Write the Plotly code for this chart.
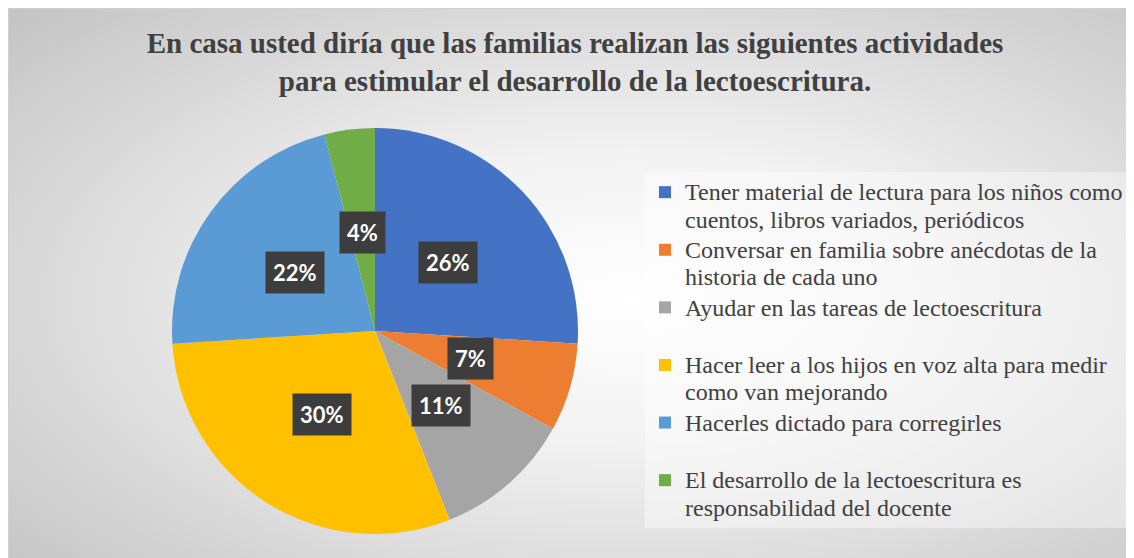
import base64
import math
import plotly.graph_objects as go

# ---- data ----
categories = [
    "Tener material de lectura para los niños como<br>cuentos, libros variados, periódicos",
    "Conversar en familia sobre anécdotas de la<br>historia de cada uno",
    "Ayudar en las tareas de lectoescritura<br> ",
    "Hacer leer a los hijos en voz alta para medir<br>como van mejorando",
    "Hacerles dictado para corregirles<br> ",
    "El desarrollo de la lectoescritura es<br>responsabilidad del docente",
]
values = [26, 7, 11, 30, 22, 4]
colors = ["#4472C4", "#ED7D31", "#A5A5A5", "#FFC000", "#5B9BD5", "#70AD47"]
title_text = ("En casa usted diría que las familias realizan las siguientes actividades<br>"
              "para estimular el desarrollo de la lectoescritura.")

W, H = 1134, 558
# page shows the figure offset by the default 8px body margin
OFF = 8
pcx, pcy, prad = 375 - OFF, 331 - OFF, 203
dom_x = [(pcx - prad) / W, (pcx + prad) / W]
dom_y = [1 - (pcy + prad) / H, 1 - (pcy - prad) / H]


def styled(label, size):
    return "<br>".join(f'<span style="font-size:{size}px">{part}</span>'
                       for part in label.split("<br>"))


fig = go.Figure(go.Pie(
    labels=[styled(c, 24) for c in categories],
    values=values,
    marker=dict(colors=colors, line=dict(width=0)),
    sort=False,
    direction="clockwise",
    rotation=0,
    textinfo="none",
    hoverinfo="percent",
    domain=dict(x=dom_x, y=dom_y),
))

# percentage labels in dark boxes, positioned from the data
total = sum(values)
cx = (dom_x[0] + dom_x[1]) / 2
cy = (dom_y[0] + dom_y[1]) / 2
R = min((dom_x[1] - dom_x[0]) * W, (dom_y[1] - dom_y[0]) * H) / 2
cum = 0
for v in values:
    mid = (cum + v / 2) / total * 2 * math.pi
    cum += v
    r = 0.49 * R
    ax = cx + r * math.sin(mid) / W
    ay = cy + r * math.cos(mid) / H
    fig.add_annotation(
        x=ax, y=ay, xref="paper", yref="paper",
        text=f"<b>{round(v / total * 100)}%</b>", showarrow=False,
        font=dict(family="Lato", size=22, color="white"),
        bgcolor="#3d3d3d", borderpad=7,
        xanchor="center", yanchor="middle",
    )

# radial gradient background as an SVG image
svg = (
    '<svg xmlns="http://www.w3.org/2000/svg" width="1127" height="552" viewBox="0 0 1127 552" preserveAspectRatio="none">'
    '<defs><radialGradient id="g" cx="55%" cy="52%" r="75%">'
    '<stop offset="0%" stop-color="#ffffff"/>'
    '<stop offset="35%" stop-color="#f2f2f2"/>'
    '<stop offset="100%" stop-color="#c4c4c4"/>'
    '</radialGradient></defs>'
    '<rect width="1127" height="552" fill="url(#g)"/>'
    '<rect x="0.5" y="0.5" width="1126" height="551" fill="none" stroke="#d0d0d0" stroke-width="1"/>'
    '</svg>'
)
src = "data:image/svg+xml;base64," + base64.b64encode(svg.encode()).decode()
fig.add_layout_image(
    source=src, xref="paper", yref="paper",
    x=0, y=1, sizex=1, sizey=1,
    xanchor="left", yanchor="top", sizing="stretch", layer="below",
)

fig.update_layout(
    width=W, height=H,
    margin=dict(l=0, r=0, t=0, b=0),
    paper_bgcolor="white",
    plot_bgcolor="rgba(0,0,0,0)",
    title=dict(
        text=title_text,
        x=(575 - OFF) / W, xanchor="center",
        y=1 - (53 - OFF) / H, yanchor="top",
        font=dict(family="Liberation Serif", size=29, color="#404040", weight="bold"),
    ),
    legend=dict(
        x=(686 - 41 - OFF) / W, xanchor="left",
        y=1 - (172 - OFF) / H, yanchor="top",
        font=dict(family="Liberation Serif", size=21, color="#404040"),
        bgcolor="rgba(255,255,255,0.4)",
        valign="top",
        traceorder="normal",
    ),
    showlegend=True,
)

fig.write_html("out.html")
